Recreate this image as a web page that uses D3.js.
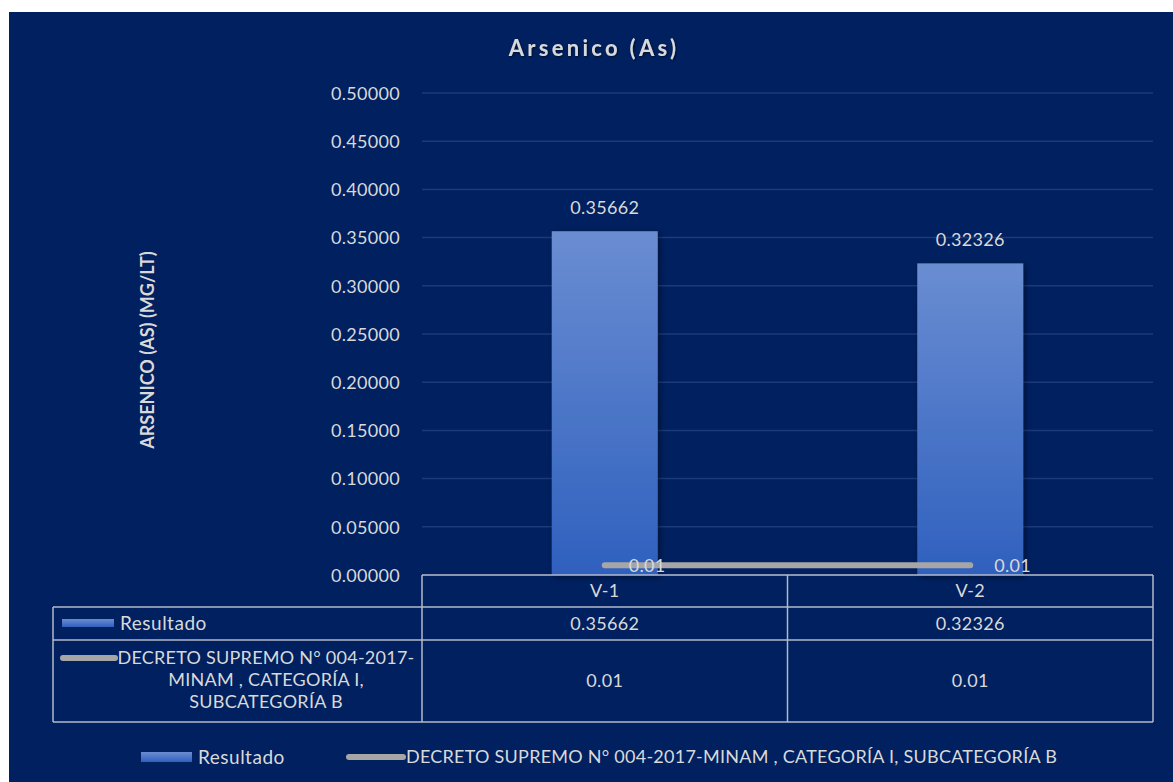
<!DOCTYPE html>
<html><head><meta charset="utf-8">
<script src="https://cdn.jsdelivr.net/npm/d3@7"></script>
<style>body{margin:0;background:#fff}svg{display:block}text{font-family:Lato,"Open Sans",sans-serif}</style>
</head><body>
<script>
const categories = ["V-1", "V-2"];
const resultado = [0.35662, 0.32326];
const decreto = [0.01, 0.01];
const yTicks = [0, 0.05, 0.10, 0.15, 0.20, 0.25, 0.30, 0.35, 0.40, 0.45, 0.50];
const seriesNames = ["Resultado", "DECRETO SUPREMO N° 004-2017-MINAM , CATEGORÍA I, SUBCATEGORÍA B"];
const decretoHeaderLines = ["DECRETO SUPREMO N° 004-2017-", "MINAM , CATEGORÍA I,", "SUBCATEGORÍA B"];
const titleText = "Arsenico (As)";
const yTitle = "ARSENICO (AS) (MG/LT)";

(function () {
const W = 1173, H = 782;
const bg = "#002060", txt = "#d9d9d9", grid = "#1d3a78", tbl = "#b4b9c8", gray = "#a6a6a6";
const num = s => s.attr("font-size", 18).attr("letter-spacing", 0.3);
const word = s => s.attr("font-size", 19).attr("letter-spacing", 0.5);
const caps = s => s.attr("font-size", 18).attr("letter-spacing", 0.25);

const svg = d3.select("body").append("svg").attr("width", W).attr("height", H);
const defs = svg.append("defs");
const g1 = defs.append("linearGradient").attr("id", "barg").attr("x1", 0).attr("y1", 0).attr("x2", 0).attr("y2", 1);
g1.append("stop").attr("offset", "0%").attr("stop-color", "#6a8dd2");
g1.append("stop").attr("offset", "100%").attr("stop-color", "#2f60be");
const f = defs.append("filter").attr("id", "sh").attr("x", "-20%").attr("y", "-20%").attr("width", "140%").attr("height", "140%");
f.append("feDropShadow").attr("dx", 2).attr("dy", 2).attr("stdDeviation", 3).attr("flood-color", "#000").attr("flood-opacity", 0.45);
const tf = defs.append("filter").attr("id", "tsh");
tf.append("feDropShadow").attr("dx", 1).attr("dy", 1).attr("stdDeviation", 1).attr("flood-color", "#000").attr("flood-opacity", 0.6);

svg.append("rect").attr("x", 9).attr("y", 12).attr("width", W - 9).attr("height", H - 12).attr("fill", bg);

const pl = 422, pr = 1153, pt = 93, pb = 575;
const x = d3.scaleBand().domain(categories).range([pl, pr]);
const y = d3.scaleLinear().domain([0, 0.5]).range([pb, pt]);
const barW = x.bandwidth() * 0.29;

svg.append("g").selectAll("line").data(yTicks).join("line")
  .attr("x1", pl).attr("x2", pr).attr("y1", d => y(d)).attr("y2", d => y(d))
  .attr("stroke", grid).attr("stroke-width", 1.5);

const ya = svg.append("g").attr("transform", `translate(${pl},0)`)
  .call(d3.axisLeft(y).tickValues(yTicks).tickFormat(d3.format(".5f")).tickSize(0).tickPadding(22));
ya.select(".domain").remove();
ya.selectAll("text").attr("fill", txt).style("font-family", "Lato").attr("dy", "0.35em").call(num);

svg.append("text").attr("x", 594).attr("y", 56).attr("text-anchor", "middle").attr("fill", txt)
  .attr("font-size", 22).attr("font-weight", "bold").attr("letter-spacing", 3.3).attr("filter", "url(#tsh)").text(titleText);
svg.append("text").attr("transform", `translate(154,350) rotate(-90)`).attr("text-anchor", "middle").attr("fill", txt)
  .attr("font-size", 18).attr("font-weight", "bold").text(yTitle);

svg.append("g").selectAll("rect").data(resultado).join("rect")
  .attr("x", (d, i) => x(categories[i]) + (x.bandwidth() - barW) / 2)
  .attr("y", d => y(d)).attr("width", barW).attr("height", d => y(0) - y(d))
  .attr("fill", "url(#barg)").attr("filter", "url(#sh)");
svg.append("g").selectAll("text").data(resultado).join("text")
  .attr("x", (d, i) => x(categories[i]) + x.bandwidth() / 2).attr("y", d => y(d) - 17)
  .attr("text-anchor", "middle").attr("fill", txt).call(num).text(d => d3.format(".5f")(d));

const line = d3.line().x((d, i) => x(categories[i]) + x.bandwidth() / 2).y(d => y(d));
svg.append("path").datum(decreto).attr("d", line).attr("fill", "none").attr("stroke", gray)
  .attr("stroke-width", 6).attr("stroke-linecap", "round");
svg.append("g").selectAll("text").data(decreto).join("text")
  .attr("x", (d, i) => x(categories[i]) + x.bandwidth() / 2 + 24).attr("y", d => y(d)).attr("dy", "0.38em")
  .attr("fill", txt).call(num).text(d => String(d));

const rowY = [575, 607, 640, 722];
const colX = [53, pl, x("V-2"), pr];
const tg = svg.append("g").attr("stroke", tbl).attr("stroke-width", 1.5).attr("fill", "none");
tg.append("line").attr("x1", pl).attr("x2", pr).attr("y1", rowY[0]).attr("y2", rowY[0]);
[1, 2, 3].forEach(r => tg.append("line").attr("x1", colX[0]).attr("x2", pr).attr("y1", rowY[r]).attr("y2", rowY[r]));
tg.append("line").attr("x1", colX[0]).attr("x2", colX[0]).attr("y1", rowY[1]).attr("y2", rowY[3]);
[1, 2, 3].forEach(c => tg.append("line").attr("x1", colX[c]).attr("x2", colX[c]).attr("y1", rowY[0]).attr("y2", rowY[3]));

const cx = c => x(c) + x.bandwidth() / 2;
svg.append("g").selectAll("text").data(categories).join("text")
  .attr("x", d => cx(d)).attr("y", (rowY[0] + rowY[1]) / 2).attr("dy", "0.36em").attr("text-anchor", "middle")
  .attr("fill", txt).call(num).text(d => d);
svg.append("g").selectAll("text").data(resultado).join("text")
  .attr("x", (d, i) => cx(categories[i])).attr("y", (rowY[1] + rowY[2]) / 2).attr("dy", "0.36em").attr("text-anchor", "middle")
  .attr("fill", txt).call(num).text(d => d3.format(".5f")(d));
svg.append("g").selectAll("text").data(decreto).join("text")
  .attr("x", (d, i) => cx(categories[i])).attr("y", (rowY[2] + rowY[3]) / 2).attr("dy", "0.36em").attr("text-anchor", "middle")
  .attr("fill", txt).call(num).text(d => String(d));

svg.append("rect").attr("x", 62).attr("y", 619).attr("width", 52).attr("height", 8).attr("fill", "url(#barg)");
svg.append("text").attr("x", 120).attr("y", 623).attr("dy", "0.36em").attr("fill", txt).call(word).text(seriesNames[0]);
svg.append("line").attr("x1", 63).attr("x2", 115).attr("y1", 658).attr("y2", 658).attr("stroke", gray).attr("stroke-width", 6).attr("stroke-linecap", "round");
svg.append("g").selectAll("text").data(decretoHeaderLines).join("text")
  .attr("x", 266).attr("y", (d, i) => 658 + i * 22).attr("dy", "0.36em").attr("text-anchor", "middle")
  .attr("fill", txt).call(caps).text(d => d);

svg.append("rect").attr("x", 141).attr("y", 752).attr("width", 51).attr("height", 10).attr("fill", "url(#barg)");
svg.append("text").attr("x", 198).attr("y", 757).attr("dy", "0.36em").attr("fill", txt).call(word).text(seriesNames[0]);
svg.append("line").attr("x1", 349).attr("x2", 403).attr("y1", 757).attr("y2", 757).attr("stroke", gray).attr("stroke-width", 6).attr("stroke-linecap", "round");
svg.append("text").attr("x", 406).attr("y", 757).attr("dy", "0.36em").attr("fill", txt).call(caps).text(seriesNames[1]);
})();
</script>
</body></html>
